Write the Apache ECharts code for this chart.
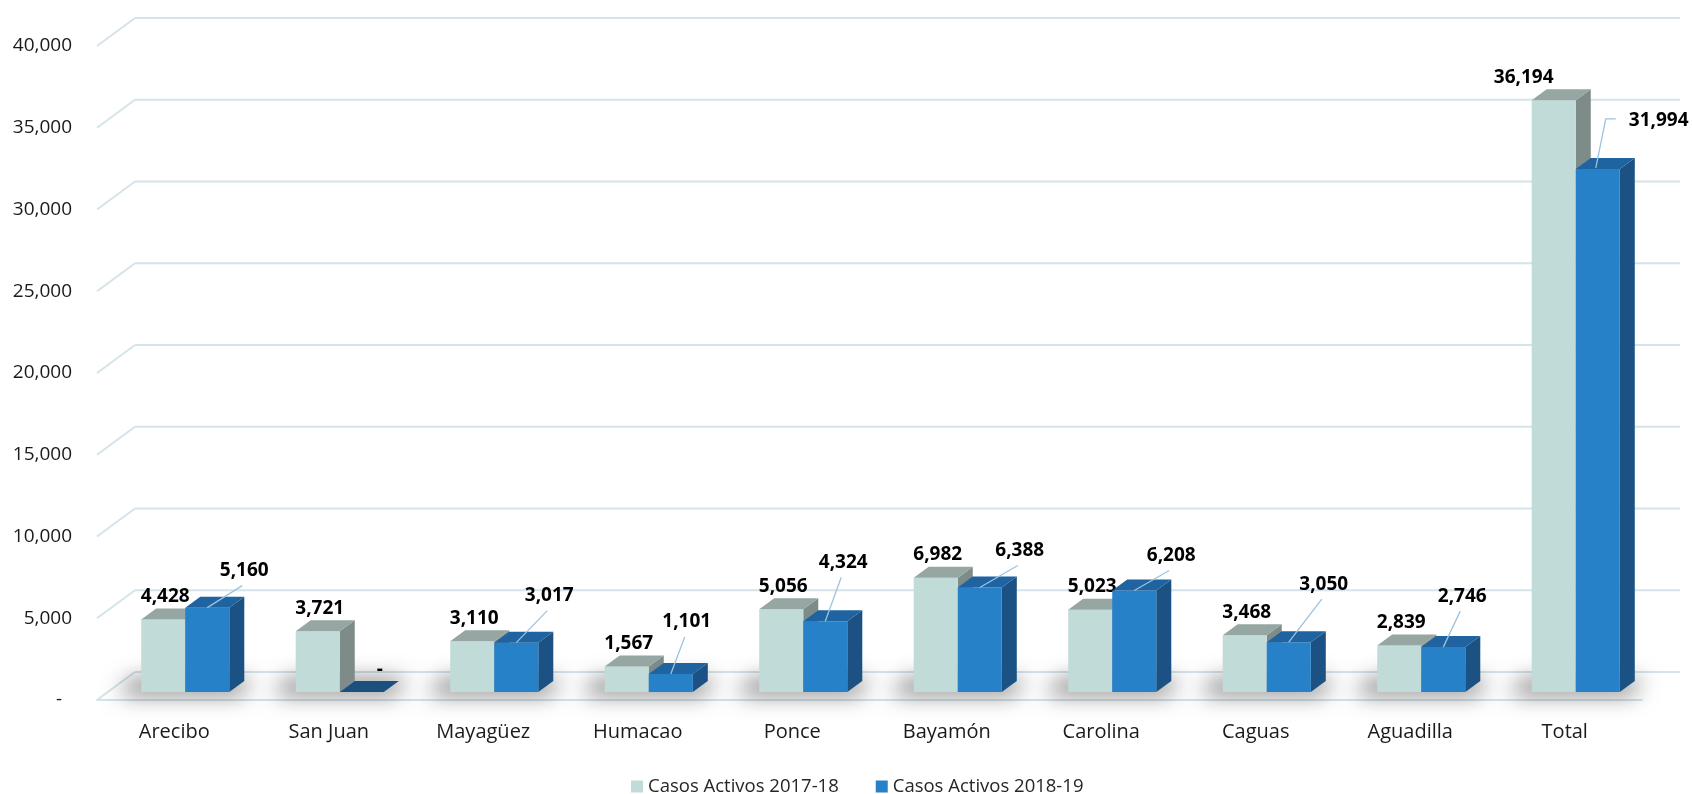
<!DOCTYPE html>
<html><head><meta charset="utf-8">
<script src="https://cdn.jsdelivr.net/npm/echarts@6/dist/echarts.min.js"></script>
<style>html,body{margin:0;padding:0;background:#fff}#c{width:1692px;height:794px}</style>
</head><body><div id="c"></div>
<script>
// ---------- data ----------
const categories = ['Arecibo','San Juan','Mayagüez','Humacao','Ponce','Bayamón','Carolina','Caguas','Aguadilla','Total'];
const activos2017 = [4428,3721,3110,1567,5056,6982,5023,3468,2839,36194];
const activos2018 = [5160,0,3017,1101,4324,6388,6208,3050,2746,31994];
const yTicks = [0,5000,10000,15000,20000,25000,30000,35000,40000];
const seriesNames = ['Casos Activos 2017-18','Casos Activos 2018-19'];

// ---------- style / layout ----------
const FONT = '"Open Sans", "Noto Sans", sans-serif';
const WALL_DX = 38, WALL_DY = -28;     // depth of the back wall
const BAR_OX = 11, BAR_OY = -8;        // bars sit slightly behind the front plane
const BAR_DX = 15, BAR_DY = -11;       // bar depth
const BAR_FRAC = 0.285;                // bar width / category band
const GRID_COLOR = '#d5e3ea';
const SHIFT = 3000;                    // draw shadow caster off-canvas, keep only its blur
const PALETTE = [
  {front:'#c1dbd8', top:'#95a6a3', side:'#7d8c89'},
  {front:'#2681c8', top:'#1f63a1', side:'#1b5283'}
];
// manual label nudges for the 2018-19 series (relative to bar top)
const blueLabelNudge = [[37,-37],[18,-22],[33,-47],[16,-52],[18,-59],[40,-37],[37,-35],[35,-58],[19,-51],[61,-48]];

const fmt = v => v === 0 ? '-' : v.toLocaleString('en-US');

function gridRender(params, api){
  const cs = params.coordSys;
  const y = api.coord([0, api.value(1)])[1];
  const x0 = cs.x, x1 = cs.x + cs.width;
  const st = {stroke: GRID_COLOR, lineWidth: 2, fill: null};
  return {type:'group', children:[
    {type:'line', shape:{x1:x0, y1:y, x2:x0+WALL_DX, y2:y+WALL_DY}, style:st},
    {type:'line', shape:{x1:x0+WALL_DX, y1:y+WALL_DY, x2:x1+WALL_DX, y2:y+WALL_DY}, style:st}
  ]};
}

function shadowRender(params, api){
  const idx = api.value(0);
  const p = api.coord([idx, 0]);
  const band = api.size([1,0])[0];
  const w = band*BAR_FRAC;
  const c = p[0] + BAR_OX;
  const yb = p[1] + BAR_OY;
  const xl = c - w, xr = c + w + BAR_DX;
  const pts = [[xl-22,yb+3],[xr-4,yb+3],[xr+8,yb+BAR_DY-2],[xl-10,yb+BAR_DY-2]].map(q => [q[0]-SHIFT, q[1]]);
  return {type:'polygon', shape:{points:pts},
    style:{fill:'#000', shadowBlur:22, shadowColor:'rgba(0,0,0,0.5)', shadowOffsetX:SHIFT, shadowOffsetY:0}};
}

function barRender(s){
  return function(params, api){
    const idx = api.value(0), v = api.value(1);
    const pTop = api.coord([idx, v]), pBase = api.coord([idx, 0]);
    const band = api.size([1,0])[0];
    const w = band*BAR_FRAC;
    const c = pTop[0] + BAR_OX;
    const x0 = s === 0 ? c - w : c, x1 = x0 + w;
    const yt = pTop[1] + BAR_OY, yb = pBase[1] + BAR_OY;
    const col = PALETTE[s];
    const kids = [];
    if (yb - yt > 0.5) {
      kids.push({type:'polygon', shape:{points:[[x1,yt],[x1+BAR_DX,yt+BAR_DY],[x1+BAR_DX,yb+BAR_DY],[x1,yb]]}, style:{fill:col.side}});
      kids.push({type:'rect', shape:{x:x0, y:yt, width:w, height:yb-yt}, style:{fill:col.front}});
    }
    kids.push({type:'polygon', shape:{points:[[x0,yt],[x1,yt],[x1+BAR_DX,yt+BAR_DY],[x0+BAR_DX,yt+BAR_DY]]}, style:{fill: v === 0 ? '#1b4f7e' : col.top}});
    const cx = (x0+x1)/2;
    const txt = {fontSize:19, fontWeight:'bold', fontFamily:FONT, fill:'#000'};
    const last = idx === categories.length - 1;
    if (s === 0) {
      kids.push({type:'text', x: cx + (last ? -30 : 2), y: yt - 23, style:Object.assign({text:fmt(v), align:'center', verticalAlign:'middle'}, txt)});
    } else {
      const n = blueLabelNudge[idx];
      if (last) {
        kids.push({type:'polyline', shape:{points:[[cx-2,yt-1],[cx+8,yt-50],[cx+18,yt-50]]}, style:{stroke:'#9cc3df', lineWidth:1.3, fill:null}});
        kids.push({type:'text', x: cx + 31, y: yt + n[1], style:Object.assign({text:fmt(v), align:'left', verticalAlign:'middle'}, txt)});
      } else {
        if (n[1] < -30) {
          kids.push({type:'line', shape:{x1:cx, y1:yt, x2:cx+n[0]-2, y2:yt+n[1]+15}, style:{stroke:'#9cc3df', lineWidth:1.3}});
        }
        kids.push({type:'text', x: cx + n[0], y: yt + n[1], style:Object.assign({text:fmt(v), align:'center', verticalAlign:'middle'}, txt)});
      }
    }
    return {type:'group', children:kids};
  };
}

const chart = echarts.init(document.getElementById('c'), null, {renderer:'canvas'});
chart.setOption({
  animation:false,
  backgroundColor:'#fff',
  grid:{left:97, right:50, top:46, bottom:94, containLabel:false},
  legend:{
    data: seriesNames.map(n => ({name:n, icon:'rect'})),
    left:626, top:772, itemWidth:12, itemHeight:12, itemGap:37,
    textStyle:{fontSize:18.5, color:'#262626', fontFamily:FONT}
  },
  xAxis:{
    type:'category', data:categories, boundaryGap:true,
    axisLine:{show:true, lineStyle:{color:GRID_COLOR, width:2}},
    axisTick:{show:false},
    axisLabel:{fontSize:20, color:'#1a1a1a', fontFamily:FONT, margin:22},
    splitLine:{show:false}
  },
  yAxis:{
    type:'value', min:0, max:40000, interval:5000,
    axisLine:{show:false}, axisTick:{show:false}, splitLine:{show:false},
    axisLabel:{fontSize:19, color:'#1a1a1a', fontFamily:FONT, margin:25,
      formatter: v => v === 0 ? '-  ' : fmt(v)}
  },
  series:[
    {type:'custom', name:'grid', renderItem:gridRender, data: yTicks.map(v => [0, v]), encode:{x:0, y:1}, z:1, silent:true, clip:false},
    {type:'custom', name:'shadow', renderItem:shadowRender, data: categories.map((c,i) => [i, 0]), encode:{x:0, y:1}, z:2, silent:true, clip:false},
    {type:'custom', name:seriesNames[0], renderItem:barRender(0), data: activos2017.map((v,i) => [i, v]), encode:{x:0, y:1}, z:3, clip:false, itemStyle:{color:PALETTE[0].front}},
    {type:'custom', name:seriesNames[1], renderItem:barRender(1), data: activos2018.map((v,i) => [i, v]), encode:{x:0, y:1}, z:4, clip:false, itemStyle:{color:PALETTE[1].front}}
  ]
});
</script>
</body></html>
